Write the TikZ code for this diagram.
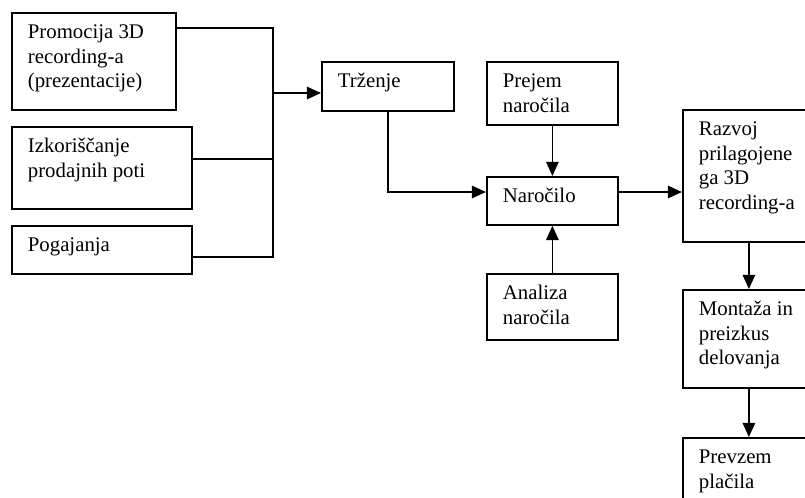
\documentclass[tikz,border=0pt]{standalone}
\usepackage{fontspec}
\setmainfont{Liberation Serif}
\usepackage{tikz}
\usetikzlibrary{calc,arrows.meta}
\newdimen\px \px=0.5625pt
\newcommand{\btxt}[3]{\parbox[c][#2\px][t]{#1\px}{\raggedright\leftskip=16\px\rule{0pt}{26\px}#3}}

\begin{document}
\begin{tikzpicture}[x=0.5625pt,y=-0.5625pt,line width=1pt,>={Triangle[length=8pt,width=7pt]}]
\useasboundingbox (0,0) rectangle (805,497);
\tikzstyle{block} = [rectangle, draw, anchor=north west, inner sep=0pt, font=\fontsize{11.7}{13.8}\selectfont]
\node[block] (prom) at (11,12) {\btxt{164}{97}{Promocija 3D\\recording-a\\(prezentacije)}};
\node[block] (izk) at (11,126) {\btxt{180}{82}{Izkoriščanje\\prodajnih poti}};
\node[block] (pog) at (11,225) {\btxt{180}{48}{Pogajanja}};
\node[block] (trz) at (321,61) {\btxt{132}{49}{Trženje}};
\node[block] (prej) at (486,61) {\btxt{131}{63}{Prejem\\naročila}};
\node[block] (nar) at (486,176) {\btxt{131}{48}{Naročilo}};
\node[block] (anal) at (486,273) {\btxt{131}{66}{Analiza\\naročila}};
\node[block] (razv) at (682,109) {\btxt{132}{132}{Razvoj\\prilagojene\\ga 3D\\recording-a}};
\node[block] (mont) at (682,289) {\btxt{132}{98}{Montaža in\\preizkus\\delovanja}};
\node[block] (prev) at (682,437) {\btxt{132}{70}{Prevzem\\plačila}};
% zbiralna linija
\coordinate (bustop) at (273,28);
\coordinate (busbot) at (273,257);
\coordinate (izkout) at ($(izk.north east)+(0,33)$);
\coordinate (trzin) at ($(trz.north west)+(0,32)$);
\coordinate (narout) at ($(nar.north east)+(0,16)$);
\draw ($(prom.north east)+(0,16)$) -- (bustop) -- (busbot) -- ($(pog.north east)+(0,32)$);
\draw (izkout) -- (izkout -| bustop);
\draw[->] (trzin -| bustop) -- (trzin);
\draw[->] (trz.south) |- ($(nar.north west)+(0,16)$);
\draw[->] (prej) -- (nar);
\draw[->] (anal) -- (nar);
\draw[->] (narout) -- (narout -| razv.west);
\draw[->] (razv) -- (mont);
\draw[->] (mont) -- (prev);
\end{tikzpicture}
\end{document}
